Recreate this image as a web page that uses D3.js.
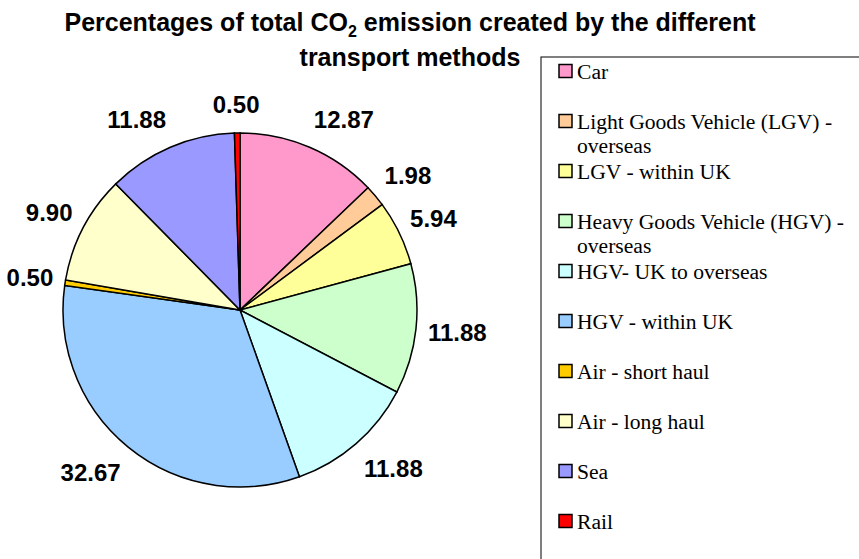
<!DOCTYPE html>
<html lang="en">
<head>
<meta charset="utf-8">
<title>CO2 emission by transport method</title>
<script src="https://d3js.org/d3.v7.min.js"></script>
<style>
  body { margin: 0; background: #fff; }
  .slice { stroke: #000; stroke-width: 1.5px; }
  .lbl { font-family: "Liberation Sans", Arial, sans-serif; font-weight: bold; font-size: 24px; fill: #000; }
  .title { font-family: "Liberation Sans", Arial, sans-serif; font-weight: bold; font-size: 25px; fill: #000; }
  .leg { font-family: "Liberation Serif", "Times New Roman", serif; font-size: 21.6px; fill: #000; }
</style>
</head>
<body>
<script>
// data
var categories = ["Car", "Light Goods Vehicle (LGV) - overseas", "LGV - within UK",
                  "Heavy Goods Vehicle (HGV) - overseas", "HGV- UK to overseas", "HGV - within UK",
                  "Air - short haul", "Air - long haul", "Sea", "Rail"];
var legendLines = [["Car"], ["Light Goods Vehicle (LGV) -", "overseas"], ["LGV - within UK"],
                   ["Heavy Goods Vehicle (HGV) -", "overseas"], ["HGV- UK to overseas"], ["HGV - within UK"],
                   ["Air - short haul"], ["Air - long haul"], ["Sea"], ["Rail"]];
var values = [12.87, 1.98, 5.94, 11.88, 11.88, 32.67, 0.50, 9.90, 11.88, 0.50];
var colors = ["#ff99cc", "#ffcc99", "#ffff99", "#ccffcc", "#ccffff", "#99ccff",
              "#ffcc00", "#ffffcc", "#9999ff", "#ff0000"];

var w = 859, h = 559;
var cx = 240, cy = 310, r = 177;

var svg = d3.select("body").append("svg").attr("width", w).attr("height", h);

// title
var t1 = svg.append("text").attr("class", "title").attr("x", 410).attr("y", 31).attr("text-anchor", "middle");
t1.append("tspan").text("Percentages of total CO");
t1.append("tspan").attr("font-size", "16px").attr("dy", 6).text("2");
t1.append("tspan").attr("dy", -6).text(" emission created by the different");
svg.append("text").attr("class", "title").attr("x", 410).attr("y", 66).attr("text-anchor", "middle")
   .text("transport methods");

var color = d3.scaleOrdinal().domain(categories).range(colors);

var pie = d3.pie().sort(null).value(d => d.v);
var data = categories.map((c, i) => ({c: c, v: values[i]}));
var arcs = pie(data);
var arcGen = d3.arc().innerRadius(0).outerRadius(r);

var g = svg.append("g").attr("transform", `translate(${cx},${cy})`);
g.selectAll("path.slice").data(arcs).enter().append("path")
  .attr("class", "slice")
  .attr("fill", d => color(d.data.c))
  .attr("d", arcGen);

// labels outside pie: nearest corner of the label box sits on the bisector
var clamp = v => Math.max(-1, Math.min(1, v));
g.selectAll("text.lbl").data(arcs).enter().append("text")
  .attr("class", "lbl")
  .attr("text-anchor", "middle")
  .attr("dominant-baseline", "central")
  .text(d => d.data.v.toFixed(2))
  .each(function(d) {
    var a = (d.startAngle + d.endAngle) / 2;
    var sx = Math.sin(a), sy = -Math.cos(a);
    var bw = this.getComputedTextLength() / 2, bh = 17;
    var D = r + 12;
    var x = sx * D + bw * clamp(sx * 2.5);
    var y = sy * D + bh * clamp(sy * 1.2);
    d3.select(this).attr("x", x).attr("y", y);
  });

// legend
svg.append("rect").attr("x", 541).attr("y", 57).attr("width", 340).attr("height", 540)
   .attr("fill", "#fff").attr("stroke", "#000").attr("stroke-width", 1);

var legY = d3.scalePoint().domain(categories).range([71, 521]);
var lg = svg.selectAll("g.legitem").data(categories).enter().append("g")
  .attr("transform", d => `translate(559,${legY(d)})`);
lg.append("rect").attr("x", 0).attr("y", -6.5).attr("width", 13).attr("height", 13)
  .attr("fill", d => color(d)).attr("stroke", "#000").attr("stroke-width", 1.5);
lg.append("text").attr("class", "leg").attr("x", 18).attr("y", 8)
  .each(function(d, i) {
    var t = d3.select(this);
    legendLines[i].forEach((ln, j) => {
      t.append("tspan").attr("x", 18).attr("dy", j === 0 ? 0 : 24).text(ln);
    });
  });
</script>
</body>
</html>
